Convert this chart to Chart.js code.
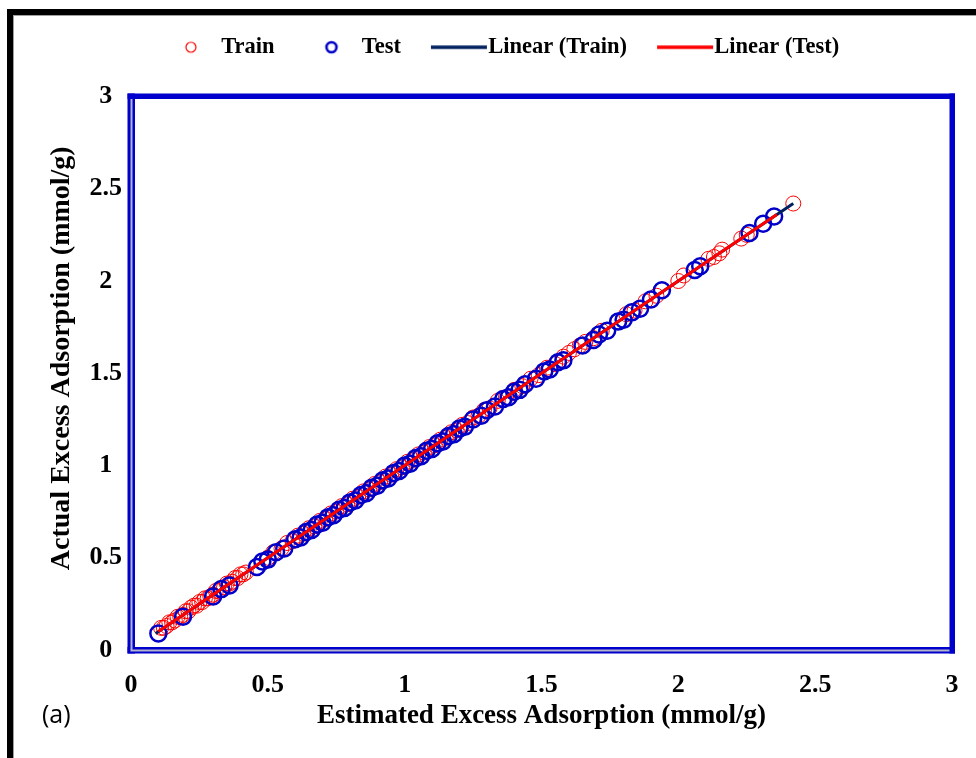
<!DOCTYPE html>
<html lang="en">
<head>
<meta charset="UTF-8">
<title>Excess Adsorption Parity Plot</title>
<script src="https://cdn.jsdelivr.net/npm/chart.js"></script>
<style>
    html, body { margin: 0; padding: 0; background: #fff; }
    #wrap { width: 976px; height: 758px; }
</style>
</head>
<body>

<div id="wrap"><canvas id="parityChart" width="976" height="758"></canvas></div>

<script>
    // values (mmol/g)
    const trainEstimated = [
        0.11, 0.12, 0.13, 0.14, 0.15, 0.16, 0.17, 0.18, 0.19, 0.20,
        0.21, 0.22, 0.23, 0.24, 0.25, 0.26, 0.27, 0.28, 0.29, 0.30,
        0.31, 0.32, 0.33, 0.34, 0.35, 0.36, 0.37, 0.38, 0.39, 0.40,
        0.41, 0.42, 0.50, 0.52, 0.55, 0.57, 0.59, 0.61, 0.63, 0.65,
        0.67, 0.69, 0.71, 0.73, 0.75, 0.77, 0.79, 0.81, 0.83, 0.85,
        0.87, 0.89, 0.91, 0.93, 0.95, 0.97, 0.99, 1.01, 1.03, 1.05,
        1.07, 1.09, 1.11, 1.13, 1.15, 1.17, 1.19, 1.21, 1.23, 1.25,
        1.27, 1.29, 1.31, 1.34, 1.37, 1.40, 1.43, 1.46, 1.49, 1.52,
        1.55, 1.58, 1.60, 1.62, 1.64, 1.66, 1.69, 1.72, 1.78, 1.81,
        1.84, 1.88, 1.92, 2.00, 2.02, 2.11, 2.13, 2.15, 2.16, 2.23,
        2.25, 2.42
    ];
    const trainActual = [
        0.12, 0.12, 0.13, 0.15, 0.15, 0.16, 0.18, 0.18, 0.19, 0.21,
        0.21, 0.23, 0.24, 0.24, 0.26, 0.26, 0.28, 0.28, 0.29, 0.30,
        0.32, 0.32, 0.33, 0.34, 0.36, 0.36, 0.37, 0.39, 0.39, 0.41,
        0.41, 0.42, 0.50, 0.53, 0.55, 0.58, 0.59, 0.62, 0.63, 0.66,
        0.67, 0.70, 0.71, 0.74, 0.75, 0.78, 0.79, 0.82, 0.83, 0.86,
        0.87, 0.90, 0.91, 0.94, 0.95, 0.98, 0.99, 1.02, 1.03, 1.06,
        1.07, 1.10, 1.11, 1.14, 1.15, 1.18, 1.19, 1.22, 1.23, 1.26,
        1.27, 1.30, 1.31, 1.35, 1.37, 1.41, 1.43, 1.47, 1.49, 1.53,
        1.55, 1.59, 1.61, 1.63, 1.65, 1.67, 1.69, 1.73, 1.78, 1.82,
        1.84, 1.89, 1.92, 2.00, 2.03, 2.12, 2.13, 2.15, 2.17, 2.23,
        2.25, 2.42
    ];
    const testEstimated = [
        0.10, 0.19, 0.30, 0.33, 0.36, 0.46, 0.48, 0.50, 0.53, 0.56,
        0.60, 0.62, 0.64, 0.66, 0.68, 0.70, 0.72, 0.74, 0.76, 0.78,
        0.80, 0.82, 0.84, 0.86, 0.88, 0.90, 0.92, 0.94, 0.96, 0.98,
        1.00, 1.02, 1.04, 1.06, 1.08, 1.10, 1.12, 1.14, 1.16, 1.18,
        1.20, 1.22, 1.25, 1.28, 1.30, 1.33, 1.36, 1.38, 1.40, 1.42,
        1.44, 1.48, 1.51, 1.53, 1.56, 1.58, 1.65, 1.69, 1.71, 1.74,
        1.78, 1.80, 1.83, 1.86, 1.90, 1.94, 2.06, 2.08, 2.26, 2.31,
        2.35
    ];
    const testActual = [
        0.09, 0.18, 0.29, 0.33, 0.35, 0.45, 0.48, 0.49, 0.53, 0.55,
        0.60, 0.61, 0.64, 0.65, 0.68, 0.69, 0.72, 0.73, 0.76, 0.77,
        0.80, 0.81, 0.84, 0.85, 0.88, 0.89, 0.92, 0.93, 0.96, 0.97,
        1.00, 1.01, 1.04, 1.05, 1.08, 1.09, 1.12, 1.13, 1.16, 1.17,
        1.20, 1.21, 1.25, 1.27, 1.30, 1.32, 1.36, 1.37, 1.40, 1.41,
        1.44, 1.47, 1.51, 1.52, 1.56, 1.57, 1.65, 1.68, 1.71, 1.73,
        1.78, 1.79, 1.83, 1.85, 1.90, 1.95, 2.06, 2.08, 2.26, 2.31,
        2.35
    ];
    // trend line end points
    const fitTrainX = [0.09, 2.42];
    const fitTrainY = [0.09, 2.42];
    const fitTestX = [0.10, 2.36];
    const fitTestY = [0.10, 2.36];

    const seriesNames = ['Train', 'Test', 'Linear (Train)', 'Linear (Test)'];

    const serif = "'Liberation Serif', 'Times New Roman', serif";

    function toPoints(xs, ys) {
        return xs.map((x, i) => ({ x: x, y: ys[i] }));
    }

    // tick labels like 0, 0.5, 1 ... (no trailing .0)
    function tickText(v) {
        return String(Math.round(v * 10) / 10);
    }

    // legend symbols as small canvases (circle sits right of box centre, line runs up to the text)
    function circleIcon(color, width) {
        const c = document.createElement('canvas');
        c.width = 50; c.height = 24;
        const g = c.getContext('2d');
        g.strokeStyle = color;
        g.lineWidth = width;
        g.beginPath();
        g.arc(39, 12, 5, 0, Math.PI * 2);
        g.stroke();
        return c;
    }
    function lineIcon(color) {
        const c = document.createElement('canvas');
        c.width = 92; c.height = 24;
        const g = c.getContext('2d');
        g.strokeStyle = color;
        g.lineWidth = 3.5;
        g.beginPath();
        g.moveTo(33, 12);
        g.lineTo(89, 12);
        g.stroke();
        return c;
    }
    const icons = [
        circleIcon('#ff0000', 1.2),
        circleIcon('#0000c8', 2.6),
        lineIcon('#002060'),
        lineIcon('#ff0000')
    ];

    // frames + panel letter
    const framePlugin = {
        id: 'frames',
        afterLayout(chart) {
            // the y title in the original sits a little above the plot centre
            const ys = chart.scales.y;
            ys.top -= 15;
            ys.bottom -= 15;
        },
        afterDraw(chart) {
            const { ctx, chartArea: a } = chart;
            ctx.save();
            // figure outline
            ctx.strokeStyle = '#000';
            ctx.lineWidth = 6;
            ctx.strokeRect(10, 12, 1200, 1000);
            ctx.strokeStyle = '#a0a0a0';
            ctx.lineWidth = 1;
            ctx.strokeRect(13.5, 15.5, 1200, 1000);
            // plot area border
            ctx.fillStyle = '#0000cc';
            ctx.fillRect(a.left - 3.5, a.top - 3, a.right - a.left + 6.5, 5.5);
            ctx.fillRect(a.right - 2.5, a.top - 3, 5.5, a.bottom - a.top + 6.5);
            ctx.fillRect(a.left - 3.5, a.top - 3, 7.5, a.bottom - a.top + 6.5);
            ctx.fillRect(a.left - 3.5, a.bottom - 3, a.right - a.left + 6.5, 6.5);
            ctx.fillStyle = '#b4b4c8';
            ctx.fillRect(a.left - 0.5, a.top + 2.5, 2, a.bottom - a.top - 2.5);
            ctx.fillRect(a.left - 0.5, a.bottom - 0.5, a.right - a.left - 2, 2);
            // (a)
            ctx.fillStyle = '#000';
            ctx.font = "25px 'Open Sans', sans-serif";
            ctx.textBaseline = 'middle';
            ctx.fillText('(a)', 42, 716);
            ctx.restore();
        }
    };

    const ctx = document.getElementById('parityChart').getContext('2d');
    const parityChart = new Chart(ctx, {
        type: 'scatter',
        data: {
            datasets: [
                {
                    label: seriesNames[0],
                    data: toPoints(trainEstimated, trainActual),
                    pointRadius: 7.5,
                    pointBorderWidth: 1,
                    pointBorderColor: '#ff0000',
                    pointBackgroundColor: 'rgba(0,0,0,0)',
                    clip: false,
                    order: 3
                },
                {
                    label: seriesNames[1],
                    data: toPoints(testEstimated, testActual),
                    pointRadius: 8,
                    pointBorderWidth: 2.5,
                    pointBorderColor: '#0000c8',
                    pointBackgroundColor: 'rgba(0,0,0,0)',
                    clip: false,
                    order: 2
                },
                {
                    label: seriesNames[2],
                    data: toPoints(fitTrainX, fitTrainY),
                    showLine: true,
                    borderColor: '#002060',
                    borderWidth: 3,
                    pointRadius: 0,
                    clip: false,
                    order: 1
                },
                {
                    label: seriesNames[3],
                    data: toPoints(fitTestX, fitTestY),
                    showLine: true,
                    borderColor: '#ff0000',
                    borderWidth: 3,
                    pointRadius: 0,
                    clip: false,
                    order: 0
                }
            ]
        },
        options: {
            responsive: false,
            animation: false,
            events: [],
            layout: { padding: { left: 31, right: 24, top: 26, bottom: 0 } },
            scales: {
                x: {
                    type: 'linear',
                    min: 0,
                    max: 3,
                    grid: { display: false },
                    border: { display: false },
                    ticks: {
                        stepSize: 0.5,
                        color: '#000',
                        padding: 12,
                        font: { family: serif, size: 26, weight: 'bold' },
                        callback: tickText
                    },
                    title: {
                        display: true,
                        text: 'Estimated Excess Adsorption (mmol/g)',
                        color: '#000',
                        font: { family: serif, size: 27, weight: 'bold' },
                        padding: { top: 0, bottom: 26 }
                    },
                    afterFit(s) { s.height = 108; }
                },
                y: {
                    type: 'linear',
                    min: 0,
                    max: 3,
                    grid: { display: false },
                    border: { display: false },
                    ticks: {
                        stepSize: 0.5,
                        color: '#000',
                        padding: 1,
                        crossAlign: 'center',
                        font: { family: serif, size: 26, weight: 'bold' },
                        callback: tickText
                    },
                    title: {
                        display: true,
                        text: 'Actual Excess Adsorption (mmol/g)',
                        color: '#000',
                        font: { family: serif, size: 28, weight: 'bold' },
                        padding: { top: 14, bottom: 0 }
                    },
                    afterFit(s) { s.width = 100; }
                }
            },
            plugins: {
                tooltip: { enabled: false },
                legend: {
                    position: 'top',
                    labels: {
                        usePointStyle: true,
                        pointStyleWidth: 66,
                        boxHeight: 22,
                        padding: 10,
                        color: '#000',
                        font: { family: serif, size: 22.5, weight: 'bold' },
                        generateLabels: () => seriesNames.map((name, i) => ({
                            text: name,
                            datasetIndex: i,
                            pointStyle: icons[i],
                            hidden: false,
                            fontColor: '#000',
                            lineWidth: 0,
                            strokeStyle: 'rgba(0,0,0,0)',
                            fillStyle: 'rgba(0,0,0,0)'
                        }))
                    }
                },
                // empty spacer between legend and plot
                subtitle: {
                    display: true,
                    text: ' ',
                    weight: 500,
                    font: { size: 1, lineHeight: 1 },
                    padding: { top: 0, bottom: 27 }
                }
            }
        },
        plugins: [framePlugin]
    });
</script>

</body>
</html>
